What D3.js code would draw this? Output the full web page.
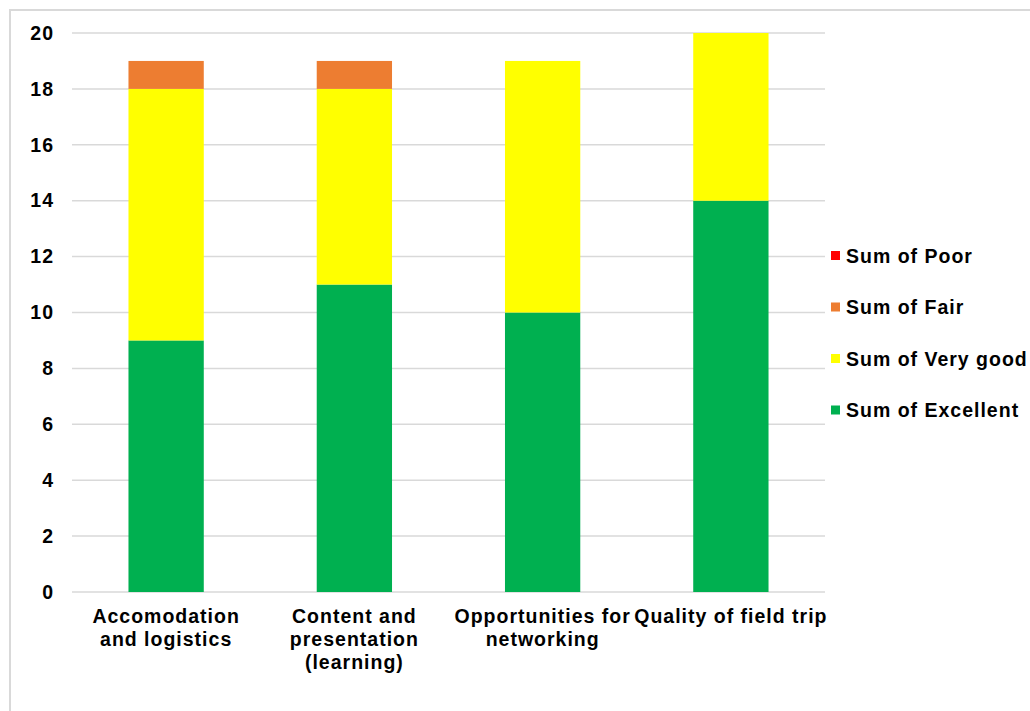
<!DOCTYPE html>
<meta charset="utf-8">
<style>
body { margin: 0; background: #fff; }
text { font-family: "Liberation Sans", Arial, sans-serif; font-weight: bold; font-size: 19.5px; letter-spacing: 1px; fill: #000; }
.grid line { stroke: #d9d9d9; stroke-width: 1.5px; }
.frame { fill: none; stroke: #d9d9d9; stroke-width: 2px; }
</style>
<body>
<script src="https://d3js.org/d3.v7.min.js"></script>
<script>
// categories and series
var categories = ["Accomodation and logistics", "Content and presentation (learning)", "Opportunities for networking", "Quality of field trip"];
var catLines = [["Accomodation", "and logistics"], ["Content and", "presentation", "(learning)"], ["Opportunities for", "networking"], ["Quality of field trip"]];
var excellent = [9, 11, 10, 14];
var veryGood = [9, 7, 9, 6];
var fair = [1, 1, 0, 0];
var poor = [0, 0, 0, 0];
var seriesNames = ["Sum of Excellent", "Sum of Very good", "Sum of Fair", "Sum of Poor"];
var seriesColors = ["#00b050", "#ffff00", "#ed7d31", "#ff0000"];
var yTicks = [0, 2, 4, 6, 8, 10, 12, 14, 16, 18, 20];

var W = 1030, H = 711;
var margin = {top: 33, left: 72, right: 205, bottom: 119};
var width = W - margin.left - margin.right,
    height = H - margin.top - margin.bottom;

var svg = d3.select("body").append("svg")
    .attr("width", W).attr("height", H);

// outer chart frame
svg.append("rect").attr("class", "frame")
    .attr("x", 10).attr("y", 10).attr("width", W + 20).attr("height", H + 20);

var g = svg.append("g")
    .attr("transform", "translate(" + margin.left + "," + margin.top + ")");

var x = d3.scaleBand().domain(categories).range([0, width])
    .paddingInner(0.6).paddingOuter(0.3);
var y = d3.scaleLinear().domain([0, 20]).range([height, 0]);

// gridlines
g.append("g").attr("class", "grid")
  .selectAll("line").data(yTicks).enter().append("line")
    .attr("x1", 0).attr("x2", width)
    .attr("y1", function(d) { return y(d); })
    .attr("y2", function(d) { return y(d); });

// build table for stack
var table = categories.map(function(c, i) {
  return {cat: c, e: excellent[i], v: veryGood[i], f: fair[i], p: poor[i]};
});
var keys = ["e", "v", "f", "p"];
var stacked = d3.stack().keys(keys)(table);

g.selectAll(".series").data(stacked).enter().append("g")
    .attr("class", "series")
    .attr("fill", function(d, i) { return seriesColors[i]; })
  .selectAll("rect").data(function(d) { return d; }).enter().append("rect")
    .attr("x", function(d) { return x(d.data.cat); })
    .attr("width", x.bandwidth())
    .attr("y", function(d) { return y(d[1]); })
    .attr("height", function(d) { return y(d[0]) - y(d[1]); });

// y axis labels
var yAxis = g.append("g").call(d3.axisLeft(y).tickValues(yTicks).tickSize(0).tickPadding(18));
yAxis.select(".domain").remove();
yAxis.selectAll("text").style("font-size", null).style("font-family", null);

// x labels
var xl = g.append("g").selectAll("text").data(categories).enter().append("text")
    .attr("text-anchor", "middle")
    .attr("transform", function(d) { return "translate(" + (x(d) + x.bandwidth() / 2) + "," + (height + 31) + ")"; });
xl.selectAll("tspan").data(function(d, i) { return catLines[i]; }).enter().append("tspan")
    .attr("x", 0).attr("dy", function(d, i) { return i === 0 ? 0 : 23; })
    .text(function(d) { return d; });

// legend (top to bottom: Poor, Fair, Very good, Excellent)
var legendOrder = [3, 2, 1, 0];
var legend = svg.append("g").selectAll("g").data(legendOrder).enter().append("g")
    .attr("transform", function(d, i) { return "translate(831," + (256 + i * 51.5) + ")"; });
legend.append("rect").attr("x", 0).attr("y", -5).attr("width", 9).attr("height", 9)
    .attr("fill", function(d) { return seriesColors[d]; });
legend.append("text").attr("x", 15).attr("dy", "0.35em")
    .text(function(d) { return seriesNames[d]; });
</script>
</body>
